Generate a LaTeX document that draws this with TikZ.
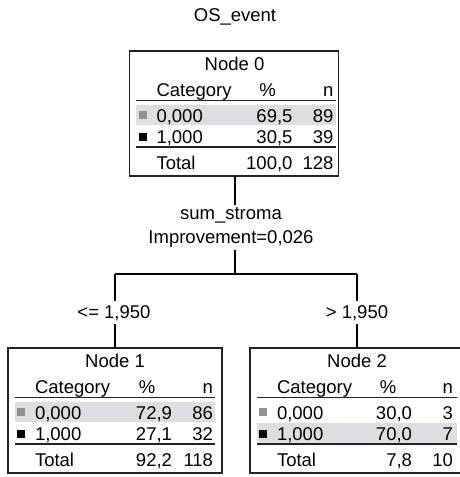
\documentclass[tikz,border=0pt]{standalone}
\usepackage{fontspec}
\setmainfont{Liberation Sans}
\usetikzlibrary{positioning}
\definecolor{bandgray}{RGB}{220,222,225}
\definecolor{markgray}{RGB}{145,145,145}
\definecolor{linegray}{RGB}{35,35,35}

\begin{document}
\begin{tikzpicture}[x=1pt,y=-1pt,font=\fontsize{18.5}{24}\selectfont,inner sep=0pt,outer sep=0pt,
    treebox/.style={draw=linegray,line width=1.3pt,minimum height=125pt},
    cell/.style={anchor=base west},
    num/.style={anchor=base east},
    rule/.style={draw=linegray,line width=1.3pt},
    conn/.style={draw=black,line width=1.3pt},
    branch/.style={anchor=base,fill=white,inner xsep=2pt,inner ysep=4pt}]
    \useasboundingbox[fill=white] (0,0) rectangle (459,477);

    \node[anchor=base] (title) at (235,21.5) {OS\_event};

    % parent node
    \node[treebox,minimum width=209pt] (N0) at (234,113.5) {};
    \begin{scope}[shift={(N0.north west)}]
        \fill[bandgray] (6,54) rectangle (206,74);
        \draw[rule] (6,49.5) -- (206,49.5);
        \draw[rule] (6,96) -- (206,96);
        \node[anchor=base] (N0lab) at (105,19) {Node 0};
        \node[cell] (N0cat) at (27,45) {Category};
        \node[anchor=base] (N0pct) at (138,45) {\%};
        \node[num] (N0n) at (204,45) {n};
        \fill[markgray] (9,60) rectangle (17,68);
        \node[cell] (N0c0) at (27,71) {0,000};
        \node[num] (N0p0) at (163,71) {69,5};
        \node[num] (N0n0) at (204,71) {89};
        \fill[black] (9,82) rectangle (17,90);
        \node[cell] (N0c1) at (27,92) {1,000};
        \node[num] (N0p1) at (163,92) {30,5};
        \node[num] (N0n1) at (204,92) {39};
        \node[cell] (N0tot) at (27,118) {Total};
        \node[num] (N0pt) at (163,118) {100,0};
        \node[num] (N0nt) at (204,118) {128};
    \end{scope}

    \node[align=center,inner ysep=3pt] (split) at (231,227.5) {sum\_stroma\\Improvement=0,026};
    \coordinate (fork) at (235,274);

    % left child
    \node[treebox,minimum width=214pt] (N1) at (115,410.5) {};
    \begin{scope}[shift={(N1.north west)}]
        \fill[bandgray] (7,54) rectangle (207,74);
        \draw[rule] (7,49.5) -- (207,49.5);
        \draw[rule] (7,96) -- (207,96);
        \node[anchor=base] (N1lab) at (107,19) {Node 1};
        \node[cell] (N1cat) at (27,45) {Category};
        \node[anchor=base] (N1pct) at (139,45) {\%};
        \node[num] (N1n) at (205,45) {n};
        \fill[markgray] (9,60) rectangle (17,68);
        \node[cell] (N1c0) at (27,71) {0,000};
        \node[num] (N1p0) at (164,71) {72,9};
        \node[num] (N1n0) at (205,71) {86};
        \fill[black] (9,82) rectangle (17,90);
        \node[cell] (N1c1) at (27,92) {1,000};
        \node[num] (N1p1) at (164,92) {27,1};
        \node[num] (N1n1) at (205,92) {32};
        \node[cell] (N1tot) at (27,118) {Total};
        \node[num] (N1pt) at (164,118) {92,2};
        \node[num] (N1nt) at (205,118) {118};
    \end{scope}

    % right child
    \node[treebox,minimum width=214pt] (N2) at (357,410.5) {};
    \begin{scope}[shift={(N2.north west)}]
        \fill[bandgray] (7,75) rectangle (207,95);
        \draw[rule] (7,49.5) -- (207,49.5);
        \draw[rule] (7,96) -- (207,96);
        \node[anchor=base] (N2lab) at (107,19) {Node 2};
        \node[cell] (N2cat) at (27,45) {Category};
        \node[anchor=base] (N2pct) at (138,45) {\%};
        \node[num] (N2n) at (203,45) {n};
        \fill[markgray] (9,60) rectangle (17,68);
        \node[cell] (N2c0) at (27,71) {0,000};
        \node[num] (N2p0) at (162,71) {30,0};
        \node[num] (N2n0) at (203,71) {3};
        \fill[black] (9,82) rectangle (17,90);
        \node[cell] (N2c1) at (27,92) {1,000};
        \node[num] (N2p1) at (162,92) {70,0};
        \node[num] (N2n1) at (203,92) {7};
        \node[cell] (N2tot) at (27,118) {Total};
        \node[num] (N2pt) at (162,118) {7,8};
        \node[num] (N2nt) at (203,118) {10};
    \end{scope}

    % connectors
    \draw[conn] (N0.south -| fork) -- (split.north -| fork);
    \draw[conn] (split.south -| fork) -- (fork);
    \draw[conn] (fork -| N1.north) -- (fork -| N2.north);
    \draw[conn] (fork -| N1.north) -- (N1.north);
    \draw[conn] (fork -| N2.north) -- (N2.north);
    \node[branch] (le) at (114,318) {<= 1,950};
    \node[branch] (gt) at (357,318) {> 1,950};
\end{tikzpicture}
\end{document}
